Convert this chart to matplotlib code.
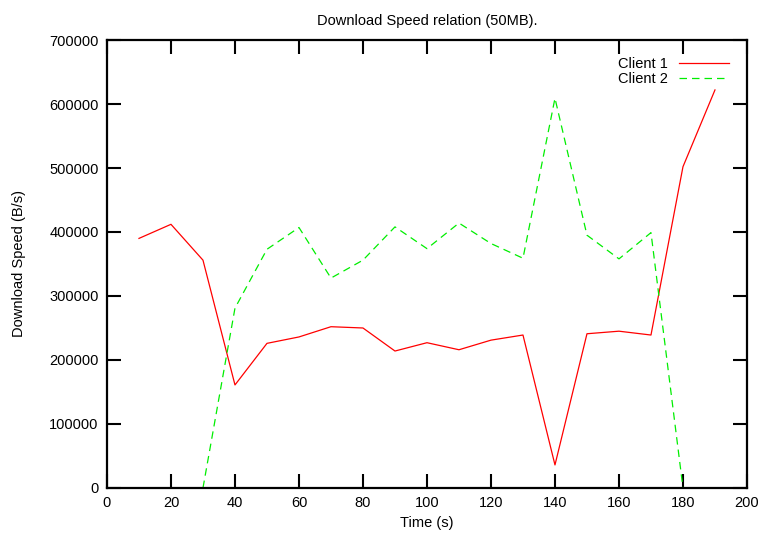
import numpy as np
import matplotlib.pyplot as plt

plt.rcParams['font.family'] = ['Liberation Sans', 'DejaVu Sans']

# data
time_c1 = [10, 20, 30, 40, 50, 60, 70, 80, 90, 100, 110, 120, 130, 140, 150, 160, 170, 180, 190]
speed_c1 = [390000, 412000, 356000, 161000, 226000, 236000, 252000, 250000, 214000, 227000,
            216000, 231000, 239000, 36000, 241000, 245000, 239000, 502000, 622000]

time_c2 = [30, 40, 50, 60, 70, 80, 90, 100, 110, 120, 130, 140, 150, 160, 170, 180]
speed_c2 = [0, 281000, 373000, 407000, 328000, 356000, 408000, 374000, 414000, 382000,
            359000, 609000, 395000, 358000, 399000, 0]

fig = plt.figure(figsize=(7.63, 5.35), dpi=100)
ax = fig.add_axes([0.1402, 0.0879, 0.979 - 0.1402, 0.9252 - 0.0879])

ax.plot(time_c1, speed_c1, color='#ff0000', lw=0.9, label='Client 1')
ax.plot(time_c2, speed_c2, color='#00ee00', lw=0.9, dashes=(6, 4), label='Client 2')

ax.set_xlim(0, 200)
ax.set_ylim(0, 700000)
ax.set_xticks(np.arange(0, 201, 20))
ax.set_yticks(np.arange(0, 700001, 100000))
ax.tick_params(direction='in', length=10, width=1.5, top=True, right=True,
               labelsize=10.5, pad=6)
for s in ax.spines.values():
    s.set_linewidth(1.6)

ax.set_xlabel('Time (s)', fontsize=10.5, labelpad=4)
ax.set_ylabel('Download Speed (B/s)', fontsize=10.5, labelpad=17)
ax.set_title('Download Speed relation (50MB).', fontsize=10.5, pad=11)

ax.legend(loc='upper right', bbox_to_anchor=(0.992, 0.992), frameon=False,
          markerfirst=False, fontsize=10.5, handlelength=3.4, labelspacing=0.1,
          borderaxespad=0.5, handletextpad=0.8)

fig.savefig('out.png', dpi=100)
